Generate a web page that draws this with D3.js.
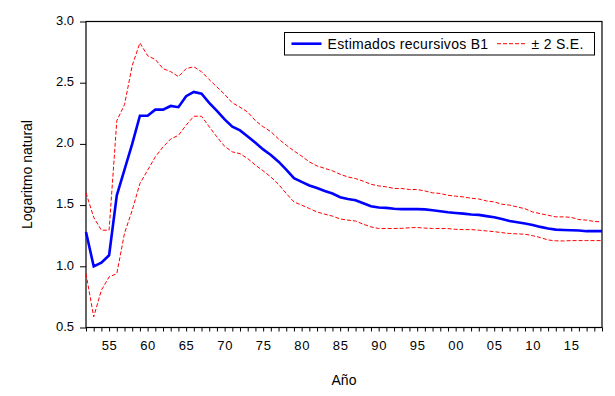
<!DOCTYPE html>
<html>
<head>
<meta charset="utf-8">
<script src="https://cdn.jsdelivr.net/npm/d3@7"></script>
<style>
  body { margin: 0; background: #fff; }
  svg { font-family: "Liberation Sans", Arial, sans-serif; }
</style>
</head>
<body>
<svg width="615" height="396"></svg>
<script>
// years 1952-2019
const years = d3.range(1952, 2020);

const estimated = [1.28, 1.00, 1.03, 1.09, 1.58, 1.79, 2.00, 2.23, 2.23, 2.28, 2.28, 2.31,
  2.30, 2.39, 2.425, 2.41, 2.335, 2.27, 2.20, 2.14, 2.11, 2.06, 2.01, 1.955, 1.91, 1.855,
  1.79, 1.72, 1.69, 1.66, 1.64, 1.615, 1.595, 1.565, 1.55, 1.54, 1.515, 1.49, 1.48,
  1.477, 1.47, 1.467, 1.467, 1.467, 1.465, 1.458, 1.45, 1.442, 1.436, 1.43, 1.423, 1.42,
  1.41, 1.40, 1.387, 1.37, 1.36, 1.35, 1.338, 1.322, 1.309, 1.30, 1.297, 1.295, 1.292, 1.287, 1.287, 1.287];

const upper = [1.60, 1.40, 1.295, 1.295, 2.19, 2.32, 2.64, 2.825, 2.72, 2.69, 2.615, 2.59,
  2.55, 2.615, 2.63, 2.59, 2.525, 2.465, 2.405, 2.335, 2.30, 2.26, 2.19, 2.14, 2.10, 2.04,
  1.99, 1.943, 1.90, 1.853, 1.82, 1.80, 1.78, 1.752, 1.73, 1.717, 1.695, 1.67, 1.657,
  1.649, 1.636, 1.636, 1.627, 1.627, 1.616, 1.60, 1.595, 1.58, 1.573, 1.567, 1.556, 1.55,
  1.534, 1.526, 1.507, 1.50, 1.485, 1.47, 1.444, 1.43, 1.417, 1.404, 1.404, 1.40, 1.382, 1.377, 1.366, 1.363];

const lower = [0.94, 0.587, 0.805, 0.913, 0.94, 1.27, 1.458, 1.676, 1.785, 1.894, 1.975, 2.04,
  2.07, 2.153, 2.226, 2.226, 2.14, 2.057, 1.98, 1.935, 1.92, 1.88, 1.826, 1.78, 1.73, 1.67,
  1.595, 1.526, 1.50, 1.472, 1.444, 1.426, 1.41, 1.387, 1.377, 1.37, 1.344, 1.322, 1.309,
  1.309, 1.309, 1.31, 1.315, 1.317, 1.312, 1.309, 1.309, 1.308, 1.302, 1.30, 1.30, 1.295,
  1.289, 1.283, 1.275, 1.268, 1.265, 1.262, 1.25, 1.235, 1.215, 1.208, 1.207, 1.21, 1.21, 1.21, 1.21, 1.21];

const yTicks = [0.5, 1.0, 1.5, 2.0, 2.5, 3.0];
const xLabelYears = [1955, 1960, 1965, 1970, 1975, 1980, 1985, 1990, 1995, 2000, 2005, 2010, 2015];

const svg = d3.select('svg');
const plotLeft = 86, plotRight = 602, plotTop = 21.5, plotBottom = 327.5;

const x = d3.scaleLinear().domain([1952, 2019]).range([plotLeft, plotRight]);
const y = d3.scaleLinear().domain([0.5, 3.0]).range([plotBottom, plotTop]);

// y axis
const yAxis = svg.append('g')
  .attr('transform', `translate(${plotLeft},0)`)
  .call(d3.axisLeft(y).tickValues(yTicks).tickFormat(d3.format('.1f')).tickSize(6).tickPadding(6));
yAxis.select('.domain').remove();
yAxis.selectAll('text').attr('font-size', 13).attr('fill', '#000').attr('dy', '0.22em');
yAxis.attr('font-family', null);

// x axis
const xAxis = svg.append('g')
  .attr('transform', `translate(0,${plotBottom})`)
  .call(d3.axisBottom(x).tickValues(years).tickSize(4).tickPadding(9)
    .tickFormat(d => xLabelYears.includes(d) ? String(d).slice(2) : ''));
xAxis.select('.domain').remove();
xAxis.attr('font-family', null);
xAxis.selectAll('text').attr('font-size', 13).attr('fill', '#000')
  .attr('letter-spacing', '0.6px');

// frame
svg.append('rect')
  .attr('x', plotLeft).attr('y', plotTop)
  .attr('width', plotRight - plotLeft).attr('height', plotBottom - plotTop)
  .attr('fill', 'none').attr('stroke', '#000').attr('stroke-width', 1.2);

const line = d3.line().x((d, i) => x(years[i])).y(d => y(d));

svg.append('path').datum(upper)
  .attr('d', line).attr('fill', 'none')
  .attr('stroke', '#ff0000').attr('stroke-width', 1).attr('stroke-dasharray', '4,2');
svg.append('path').datum(lower)
  .attr('d', line).attr('fill', 'none')
  .attr('stroke', '#ff0000').attr('stroke-width', 1).attr('stroke-dasharray', '4,2');
svg.append('path').datum(estimated)
  .attr('d', line).attr('fill', 'none')
  .attr('stroke', '#0000ff').attr('stroke-width', 2.6);

// axis titles
svg.append('text')
  .attr('x', (plotLeft + plotRight) / 2).attr('y', 385)
  .attr('text-anchor', 'middle').attr('font-size', 14)
  .text('Año');
svg.append('text')
  .attr('transform', `translate(31.5,${(plotTop + plotBottom) / 2}) rotate(-90)`)
  .attr('text-anchor', 'middle').attr('font-size', 14)
  .text('Logaritmo natural');

// legend
const legend = svg.append('g');
legend.append('rect')
  .attr('x', 284.5).attr('y', 32.5).attr('width', 310).attr('height', 22.5)
  .attr('fill', '#fff').attr('stroke', '#000').attr('stroke-width', 1);
legend.append('line')
  .attr('x1', 291.5).attr('x2', 321.5).attr('y1', 43.7).attr('y2', 43.7)
  .attr('stroke', '#0000ff').attr('stroke-width', 2.6);
legend.append('text')
  .attr('x', 327.5).attr('y', 48.5).attr('font-size', 14).attr('letter-spacing', '0.3px')
  .text('Estimados recursivos B1');
legend.append('line')
  .attr('x1', 497).attr('x2', 527).attr('y1', 43.7).attr('y2', 43.7)
  .attr('stroke', '#ff0000').attr('stroke-width', 1).attr('stroke-dasharray', '4,2');
legend.append('text')
  .attr('x', 531.5).attr('y', 48.5).attr('font-size', 14).attr('letter-spacing', '0.3px')
  .text('± 2 S.E.');
</script>
</body>
</html>
